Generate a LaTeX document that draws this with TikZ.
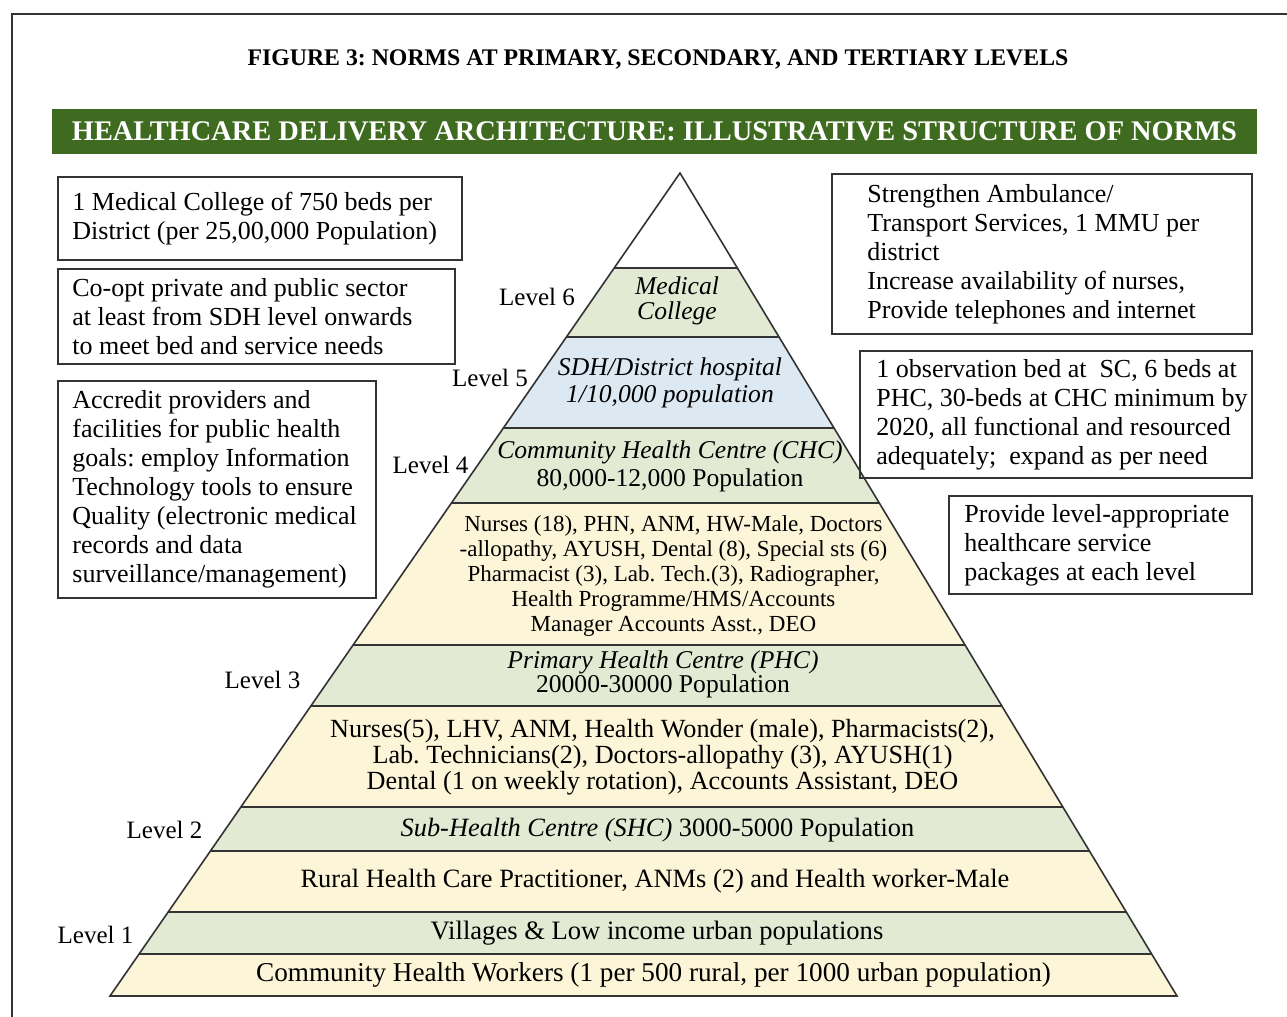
\documentclass[tikz,border=0pt]{standalone}
\usepackage{fontspec}
\setmainfont{Liberation Serif}
\usetikzlibrary{positioning}
\frenchspacing
\definecolor{bannergreen}{HTML}{3E6B1F}
\definecolor{tiergreen}{HTML}{E3EAD4}
\definecolor{tierblue}{HTML}{DCE8F2}
\definecolor{tieryellow}{HTML}{FDF5D8}
\definecolor{edgegray}{HTML}{333333}
\def\pyr{(680,173) -- (1177,996) -- (110,996) -- cycle}
\def\tier#1#2#3{\fill[#1] (0,#2) rectangle (1287,#3); \draw[tierline] (0,#2) -- (1287,#2);}
\def\fs#1#2{\fontsize{#1}{#2}\selectfont}

\begin{document}
\begin{tikzpicture}[x=0.5pt,y=-0.5pt,
    infobox/.style={draw=edgegray, line width=1pt, anchor=north west, inner sep=0pt},
    infotext/.style={anchor=west, align=left, inner sep=0pt, font=\fs{13}{14.5}},
    tiertext/.style={align=center, inner sep=0pt, font=\fs{13.2}{13.5}},
    lvl/.style={inner sep=0pt, font=\fs{12.5}{14}},
    tierline/.style={draw=edgegray, line width=1pt}]
\useasboundingbox (0,0) rectangle (1287,1017);
\draw[edgegray, line width=1.2pt] (12,1017) -- (12,14) -- (1287,14);

% headings
\node[font=\bfseries\fs{11.9}{14}] (title) at (658,59) {FIGURE 3: NORMS AT PRIMARY, SECONDARY, AND TERTIARY LEVELS};
\node[fill=bannergreen, text=white, inner sep=0pt, minimum width=602.5pt, minimum height=22.5pt,
      font=\bfseries\fs{14.2}{16}] (banner) at (654.5,131.5) {HEALTHCARE DELIVERY ARCHITECTURE: ILLUSTRATIVE STRUCTURE OF NORMS};

% pyramid
\begin{scope}
  \clip \pyr;
  \tier{tiergreen}{268}{337}
  \tier{tierblue}{337}{428}
  \tier{tiergreen}{428}{503}
  \tier{tieryellow}{503}{645}
  \tier{tiergreen}{645}{706}
  \tier{tieryellow}{706}{807}
  \tier{tiergreen}{807}{851}
  \tier{tieryellow}{851}{912}
  \tier{tiergreen}{912}{954}
  \tier{tieryellow}{954}{996}
\end{scope}
\draw[edgegray, line width=0.8pt] \pyr;

\node[tiertext, font=\itshape\fs{12.8}{12.5}] (medcol) at (677,301) {Medical\\College};
\node[tiertext, font=\itshape\fs{12.8}{13.5}] (sdh) at (670,382.5) {SDH/District hospital\\1/10,000 population};
\node[tiertext, font=\fs{12.8}{14}] (chc) at (670,466) {\textit{Community Health Centre (CHC)}\\80,000-12,000 Population};
\node[tiertext, font=\fs{11.5}{12.5}] (chcstaff) at (673.5,576) {Nurses (18), PHN, ANM, HW-Male, Doctors\\-allopathy, AYUSH, Dental (8), Special sts (6)\\Pharmacist (3), Lab. Tech.(3), Radiographer,\\Health Programme/HMS/Accounts\\Manager Accounts Asst., DEO};
\node[tiertext, font=\fs{12.8}{12}] (phc) at (663,674) {\textit{Primary Health Centre (PHC)}\\20000-30000 Population};
\node[tiertext, font=\fs{13.1}{13}] (phcstaff) at (662.5,757) {Nurses(5), LHV, ANM, Health Wonder (male), Pharmacists(2),\\Lab. Technicians(2), Doctors-allopathy (3), AYUSH(1)\\Dental (1 on weekly rotation), Accounts Assistant, DEO};
\node[tiertext] (shc) at (657.5,830) {\textit{Sub-Health Centre (SHC)} 3000-5000 Population};
\node[tiertext] (rural) at (655,881) {Rural Health Care Practitioner, ANMs (2) and Health worker-Male};
\node[tiertext, font=\fs{13.3}{13.5}] (village) at (657,933) {Villages \& Low income urban populations};
\node[tiertext, font=\fs{13.6}{14}] (chw) at (653.5,975) {Community Health Workers (1 per 500 rural, per 1000 urban population)};

% levels
\node[lvl] (lv6) at (537,297) {Level 6};
\node[lvl] (lv5) at (490,378) {Level 5};
\node[lvl] (lv4) at (430.5,465) {Level 4};
\node[lvl] (lv3) at (262.5,680) {Level 3};
\node[lvl] (lv2) at (164.5,830) {Level 2};
\node[lvl] (lv1) at (95.5,935) {Level 1};

% side boxes, left
\node[infobox, minimum width=202pt, minimum height=41.5pt] (college) at (57,176) {};
\node[infotext] (collegetxt) at ([xshift=7.5pt]college.west) {1 Medical College of 750 beds per\\District (per 25,00,000 Population)};
\node[infobox, minimum width=198.5pt, minimum height=47.5pt] (coopt) at (57,268) {};
\node[infotext] (cooptxt) at ([xshift=7.5pt]coopt.west) {Co-opt private and public sector\\at least from SDH level onwards\\to meet bed and service needs};
\node[infobox, minimum width=159pt, minimum height=108.5pt] (accredit) at (57,380) {};
\node[infotext] (accredittxt) at ([xshift=7.5pt]accredit.west) {Accredit providers and\\facilities for public health\\goals: employ Information\\Technology tools to ensure\\Quality (electronic medical\\records and data\\surveillance/management)};

% side boxes, right
\node[infobox, minimum width=210pt, minimum height=80pt] (ambulance) at (831,173) {};
\node[infotext] (ambulancetxt) at ([xshift=18pt]ambulance.west) {Strengthen Ambulance/\\Transport Services, 1 MMU per\\district\\Increase availability of nurses,\\Provide telephones and internet};
\node[infobox, minimum width=196pt, minimum height=63.5pt] (beds) at (859,350) {};
\node[infotext] (bedstxt) at ([xshift=8.5pt]beds.west) {1 observation bed at\ \ SC, 6 beds at\\PHC, 30-beds at CHC minimum by\\2020, all functional and resourced\\adequately;\ \ expand as per need};
\node[infobox, minimum width=151.5pt, minimum height=49pt] (packages) at (948,495) {};
\node[infotext] (packagestxt) at ([xshift=8pt]packages.west) {Provide level-appropriate\\healthcare service\\packages at each level};
\end{tikzpicture}
\end{document}
